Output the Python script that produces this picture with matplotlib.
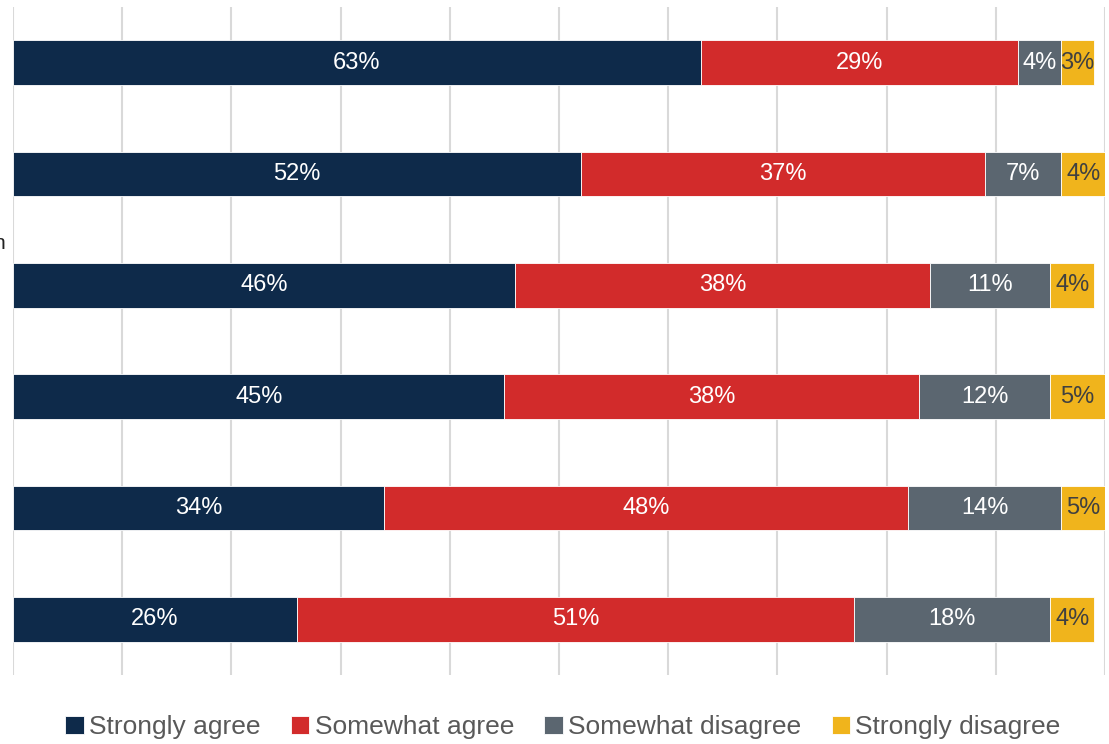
import matplotlib.pyplot as plt
import numpy as np

plt.rcParams['font.family'] = ['Liberation Sans', 'DejaVu Sans']

# survey statements, top to bottom
statements = ['S1', 'S2', 'S3', 'S4', 'S5', 'S6']
responses = ['Strongly agree', 'Somewhat agree', 'Somewhat disagree', 'Strongly disagree']

strongly_agree = [63, 52, 46, 45, 34, 26]
somewhat_agree = [29, 37, 38, 38, 48, 51]
somewhat_disagree = [4, 7, 11, 12, 14, 18]
strongly_disagree = [3, 4, 4, 5, 5, 4]

colors = ['#0E2A4A', '#D22B2B', '#5B6670', '#F0B41C']
text_colors = ['white', 'white', 'white', '#404040']

series = [strongly_agree, somewhat_agree, somewhat_disagree, strongly_disagree]

fig = plt.figure(figsize=(11.09, 7.44), dpi=100)
ax = fig.add_axes([13 / 1109, 1 - 675 / 744, 1092 / 1109, 668 / 744])

y = np.arange(len(statements))
left = np.zeros(len(statements))
for vals, name, col, tcol in zip(series, responses, colors, text_colors):
    vals = np.array(vals, dtype=float)
    bars = ax.barh(y, vals, left=left, height=0.4, color=col, label=name,
                   edgecolor='white', linewidth=0.6, zorder=3)
    ax.bar_label(bars, labels=[f'{int(v)}%' for v in vals], label_type='center',
                 color=tcol, fontsize=17)
    left += vals

ax.set_xlim(0, 100)
ax.set_ylim(len(statements) - 0.5, -0.5)
ax.set_xticks(np.arange(0, 101, 10))
ax.set_yticks([])
ax.tick_params(axis='x', length=0, labelbottom=False)
ax.grid(axis='x', color='#D9D9D9', linewidth=1.5, zorder=0)
for s in ax.spines.values():
    s.set_visible(False)

# end of a category label that runs off the left edge
fig.text(5 / 1109, 1 - 243 / 744, 'n', ha='right', va='center', fontsize=15, color='#222222')

fig.legend(loc='center', bbox_to_anchor=(563 / 1109, 1 - 727 / 744), ncol=4,
           frameon=False, fontsize=19, labelcolor='#595959',
           handlelength=0.7, handleheight=0.7, handletextpad=0.2, columnspacing=1.15)

fig.savefig('out.png', dpi=100)
